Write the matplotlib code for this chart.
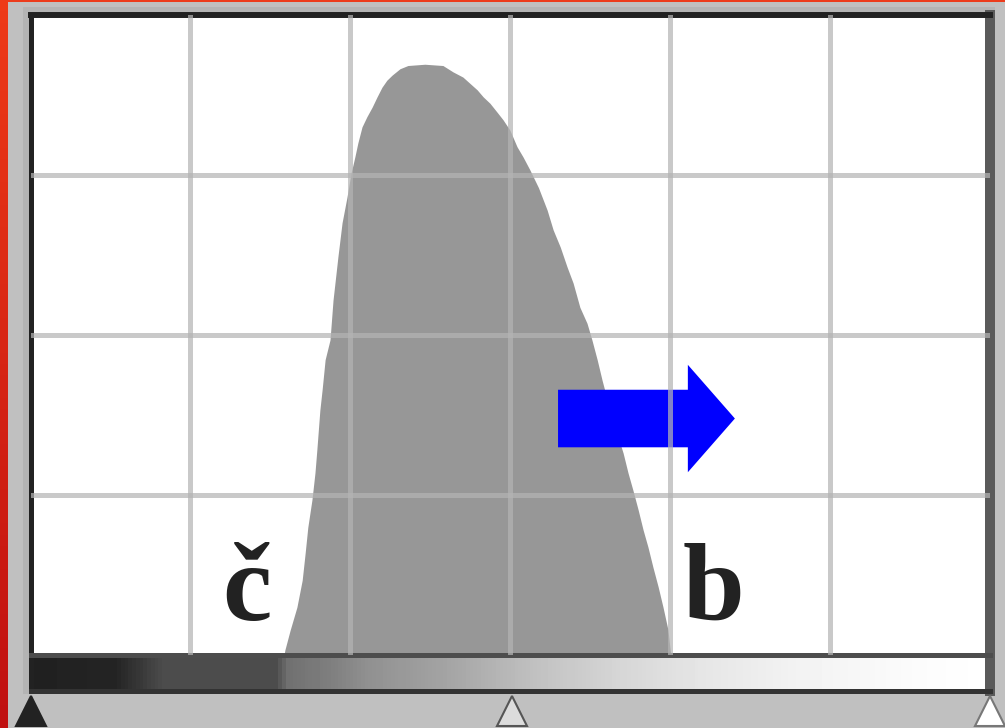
import matplotlib
matplotlib.use("Agg")
import matplotlib.pyplot as plt
import numpy as np
from matplotlib.patches import Rectangle

# histogram outline: tone level (0-255) vs. count (% of grid height)
levels = [67.4, 67.6, 69.0, 70.8, 72.2, 73.0, 73.7, 74.8, 75.6, 76.1, 76.9, 77.5, 78.3,
          79.6, 80.4, 81.7, 82.8, 84.1, 85.2, 86.2, 87.0, 88.1, 89.4, 90.8, 92.1, 93.4,
          94.7, 96.1, 98.2, 100.3, 104.8, 109.6, 112.3, 114.9, 116.8, 118.7, 120.3,
          122.1, 124.0, 125.6, 127.4, 129.3, 130.9, 132.7, 135.0, 137.3, 138.9, 140.8,
          142.6, 144.2, 146.0, 147.9, 149.2, 150.6, 151.9, 154.5, 157.5, 158.8, 160.1,
          161.5, 162.8, 164.1, 165.4, 166.8, 168.1, 169.4, 170.0, 170.2]
counts = [0.0, 0.7, 3.8, 7.4, 11.6, 15.9, 19.9, 24.2, 28.4, 32.0, 38.2, 41.4, 46.1,
          49.2, 55.4, 62.2, 67.5, 71.5, 75.3, 77.8, 80.0, 82.5, 84.1, 85.6, 87.2, 88.7,
          89.8, 90.6, 91.6, 92.1, 92.3, 92.1, 91.1, 90.3, 89.3, 88.3, 87.2,
          86.2, 84.8, 83.6, 82.0, 79.4, 77.8, 75.8, 73.0, 69.5, 66.4, 63.7,
          60.6, 58.1, 54.3, 51.8, 49.2, 46.1, 42.9, 37.1, 31.5, 28.4, 25.7,
          22.6, 19.5, 16.8, 13.7, 10.6, 7.4, 3.9, 0.7, 0.0]

# tone ramp under the histogram (level -> grey value)
ramp_levels = [0, 22, 35, 65, 68, 80, 90, 110, 135, 157, 178, 204, 240, 255]
ramp_gray = [0.13, 0.14, 0.30, 0.30, 0.44, 0.50, 0.57, 0.64, 0.76, 0.84, 0.90, 0.95, 0.99, 1.0]

# input-level sliders: black point, gamma, white point
slider_levels = [0, 128, 255]
slider_face = ["#222222", "#dcdcdc", "#ffffff"]
slider_edge = ["#222222", "#555555", "#777777"]

labels = ["č", "b"]
label_x = [57.5, 181.6]

W, H = 1005, 728


def fx(px):
    return px / W


def fy(py):
    return 1 - py / H


fig = plt.figure(figsize=(W / 100, H / 100), dpi=100, facecolor="#c0c0c0")

# window chrome: shadow frame, red edge
fig.add_artist(Rectangle((fx(23), fy(694)), fx(995) - fx(23), fy(7) - fy(694),
                         transform=fig.transFigure, facecolor="#b4b4b4", lw=0, zorder=-2))
fig.add_artist(Rectangle((0, fy(2)), 1, fy(0) - fy(2),
                         transform=fig.transFigure, facecolor="#ec3c1c", lw=0, zorder=-1))
red = fig.add_axes([0, 0, fx(7), 1])
red_ramp = np.linspace(0, 1, 64)[:, None]
red.imshow(red_ramp, aspect="auto", extent=(0, 1, 0, 1),
           cmap=matplotlib.colors.LinearSegmentedColormap.from_list("r", ["#ee3a18", "#c01010"]))
red.axis("off")

# main histogram panel
ax = fig.add_axes([fx(30.5), fy(654.5), (990 - 30.5) / W, (654.5 - 15) / H])
ax.set_zorder(3)
ax.set_facecolor("white")
ax.set_xlim(0, 255)
ax.set_ylim(0, 100)
ax.fill_between(levels, counts, color="#979797", lw=0, zorder=1)

ax.set_xticks(np.arange(1, 6) * 42.5)
ax.set_yticks([25, 50, 75])
ax.set_axisbelow(False)
ax.grid(True, color="#b4b4b4", alpha=0.72, lw=3.6)
ax.tick_params(length=0, labelbottom=False, labelleft=False)

ax.spines["top"].set_color("#222222")
ax.spines["top"].set_linewidth(4.3)
ax.spines["left"].set_color("#222222")
ax.spines["left"].set_linewidth(3.6)
ax.spines["right"].set_color("#5a5a5a")
ax.spines["right"].set_linewidth(7.2)
ax.spines["bottom"].set_color("#4d4d4d")
ax.spines["bottom"].set_linewidth(3.6)

ax.arrow(140.2, 36.9, 47.0, 0, width=9.0, head_width=16.8, head_length=12.5,
         length_includes_head=True, color="#0000ff", lw=0, zorder=2)

for lab, x in zip(labels, label_x):
    ax.text(x, 5.4, lab, ha="center", va="baseline", fontsize=80, fontweight="bold",
            family=["Liberation Serif", "DejaVu Serif"], color="#222222", zorder=3)

# tone ramp bar
gax = fig.add_axes([fx(30.5), fy(690.5), (990 - 30.5) / W, (690.5 - 654.5) / H])
ramp = np.interp(np.arange(256), ramp_levels, ramp_gray)
gax.imshow(ramp[None, :], cmap="gray", vmin=0, vmax=1, aspect="auto", extent=(0, 255, 0, 1))
gax.set_xlim(0, 255)
gax.set_ylim(0, 1)
gax.set_xticks([])
gax.set_yticks([])
gax.spines["top"].set_visible(False)
gax.spines["bottom"].set_color("#333333")
gax.spines["bottom"].set_linewidth(3.6)
gax.spines["left"].set_color("#222222")
gax.spines["left"].set_linewidth(3.6)
gax.spines["right"].set_color("#5a5a5a")
gax.spines["right"].set_linewidth(7.2)

# slider triangles
sax = fig.add_axes([fx(30.5), 0, (990 - 30.5) / W, fy(693)])
sax.set_xlim(0, 255)
sax.set_ylim(0, 1)
sax.axis("off")
for lv, fc, ec in zip(slider_levels, slider_face, slider_edge):
    sax.plot([lv], [0.49], marker="^", ms=21, mfc=fc, mec=ec, mew=1.5, clip_on=False)

fig.savefig("out.png", dpi=100, facecolor=fig.get_facecolor())
